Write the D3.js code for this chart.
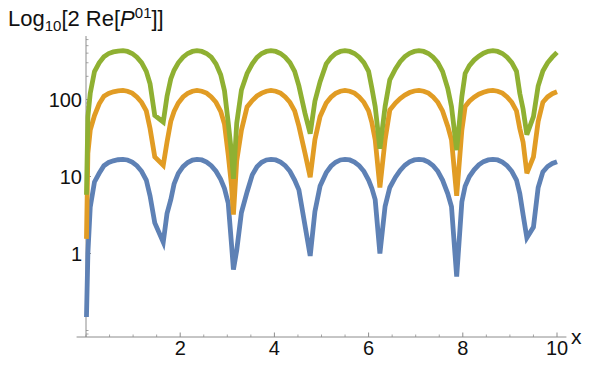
<!DOCTYPE html>
<html lang="en">
  <head>
    <meta charset="utf-8">
    <title>log10 plot</title>
    <style>
      body { margin: 0; background: #fff; }
      text { font-family: "Liberation Sans", Arial, sans-serif; }
    </style>
  </head>
  <body>
    <div id="chart"></div>

    <script src="https://d3js.org/d3.v7.min.js"></script>
    <script>

    // sample points (shared x for the three curves)
    var xs = [0.01, 0.04, 0.09, 0.18, 0.28, 0.38, 0.48, 0.58, 0.68, 0.785, 0.88, 0.98, 1.08, 1.18, 1.28, 1.36, 1.46, 1.64,
              1.72, 1.8, 1.87, 1.96, 2.06, 2.16, 2.26, 2.356, 2.46, 2.56, 2.66, 2.76, 2.86, 2.94, 3.02, 3.09, 3.13,
              3.2, 3.3, 3.42, 3.53, 3.63, 3.73, 3.83, 3.927, 4.03, 4.13, 4.23, 4.33, 4.43, 4.52, 4.65, 4.76,
              4.86, 4.97, 5.1, 5.2, 5.3, 5.4, 5.498, 5.6, 5.7, 5.8, 5.9, 6.0, 6.07, 6.14, 6.24,
              6.35, 6.45, 6.57, 6.67, 6.77, 6.87, 6.97, 7.069, 7.17, 7.27, 7.37, 7.47, 7.57, 7.68, 7.76, 7.87,
              7.98, 8.05, 8.14, 8.24, 8.34, 8.44, 8.54, 8.639, 8.74, 8.84, 8.94, 9.04, 9.14, 9.21, 9.28, 9.36,
              9.5, 9.6, 9.7, 9.8, 9.9, 10.0];

    var blue = [0.15, 1.0, 4.0, 8.5, 11, 13.8, 15.2, 16, 16.5, 16.7, 16.4, 15.4, 13.8, 11.7, 9.0, 5.6, 2.5, 1.4,
                3.3, 5.0, 8.0, 11, 13.4, 15.2, 16.3, 16.7, 16.4, 15.4, 13.8, 11.7, 9.2, 7.0, 4.5, 1.3, 0.62,
                1.1, 3.4, 6.3, 10.5, 13.4, 15.3, 16.4, 16.7, 16.4, 15.4, 13.8, 11.7, 9.0, 6.7, 2.3, 0.93,
                3.5, 7.5, 11.2, 13.6, 15.3, 16.4, 16.7, 16.4, 15.4, 13.8, 11.7, 9.0, 7.0, 5.0, 1.0,
                4.1, 7.2, 9.8, 12, 14, 15.5, 16.4, 16.7, 16.4, 15.4, 13.8, 11.7, 9.0, 6.0, 4.06, 0.5,
                4.7, 7.5, 10, 12.2, 14.2, 15.6, 16.4, 16.7, 16.4, 15.4, 13.8, 11.7, 9.0, 6.0, 3.2, 1.6,
                2.2, 7.2, 11.5, 13.5, 14.8, 15.6];

    var orange = [1.55, 20, 40, 62, 88, 110, 120, 126, 129, 131, 128, 121, 108, 92, 71, 42, 18, 14,
                  28, 52, 70, 90, 108, 120, 128, 131, 128, 121, 108, 92, 70, 48, 19, 7.5, 3.2,
                  16, 40, 80, 97, 111, 121, 128, 131, 128, 121, 108, 92, 71, 45, 20, 9.8,
                  30, 60, 90, 107, 120, 128, 131, 128, 121, 108, 92, 71, 50, 30, 7.2,
                  30, 73, 90, 103, 114, 123, 129, 131, 128, 121, 108, 92, 71, 45, 30, 5.6,
                  40, 81, 95, 107, 117, 124, 129, 131, 128, 121, 108, 92, 71, 42, 28, 11,
                  18, 52, 92, 108, 119, 126];

    var green = [5.8, 60, 120, 230, 300, 360, 395, 415, 425, 430, 421, 396, 355, 301, 232, 160, 62, 51,
                 110, 185, 240, 300, 355, 396, 421, 430, 421, 396, 355, 290, 210, 130, 50, 20, 9.3,
                 49, 133, 218, 290, 352, 396, 421, 430, 421, 396, 355, 301, 232, 150, 66, 36,
                 95, 170, 290, 350, 396, 421, 430, 421, 396, 355, 301, 232, 140, 81, 23,
                 81, 180, 250, 310, 360, 398, 421, 430, 421, 396, 355, 301, 232, 140, 81, 22,
                 109, 218, 275, 325, 365, 400, 422, 430, 421, 396, 355, 301, 232, 120, 75, 35,
                 60, 150, 235, 300, 355, 410];

    var series = [
      {name: "blue",   values: blue,   color: "#5E81B5"},
      {name: "orange", values: orange, color: "#E19C24"},
      {name: "green",  values: green,  color: "#8FB032"}
    ];

    var xMajor = [2, 4, 6, 8, 10];
    var yMajor = [1, 10, 100];
    var yLabels = ["1", "10", "100"];

    var width = 590, height = 365;

    var svg = d3.select("#chart")
      .append("svg")
        .attr("width", width)
        .attr("height", height);

    // scales: x 0..10, log y (1 -> 253.5px, 100 -> 99.5px)
    var x = d3.scaleLinear().domain([0, 10]).range([86, 557]);
    var y = d3.scaleLog().domain([1, 100]).range([253.5, 99.5]);

    var yBottom = 337, yTop = 36;
    var yLow = y.invert(yBottom), yHigh = y.invert(yTop);

    // minor ticks on y: 1..9 x 10^k inside the visible range
    var yMinor = y.copy().domain([yLow, yHigh]).ticks()
      .filter(function(d) { return yMajor.indexOf(d) < 0; });
    var xMinor = d3.range(0, 10.001, 0.5)
      .filter(function(d) { return xMajor.indexOf(d) < 0; });

    var axisColor = "#8c8c8c";

    // y ticks (pointing into the plot)
    svg.append("g")
      .selectAll("line")
      .data(yMinor)
      .enter()
      .append("line")
        .attr("x1", x(0)).attr("x2", x(0) + 2.5)
        .attr("y1", function(d) { return y(d); })
        .attr("y2", function(d) { return y(d); })
        .attr("stroke", "#a6a6a6")
        .attr("stroke-width", 1);

    svg.append("g")
      .selectAll("line")
      .data(yMajor)
      .enter()
      .append("line")
        .attr("x1", x(0)).attr("x2", x(0) + 5)
        .attr("y1", function(d) { return y(d); })
        .attr("y2", function(d) { return y(d); })
        .attr("stroke", axisColor)
        .attr("stroke-width", 1);

    // x ticks
    svg.append("g")
      .selectAll("line")
      .data(xMinor)
      .enter()
      .append("line")
        .attr("x1", function(d) { return x(d); })
        .attr("x2", function(d) { return x(d); })
        .attr("y1", yBottom).attr("y2", yBottom - 2.5)
        .attr("stroke", "#a6a6a6")
        .attr("stroke-width", 1);

    svg.append("g")
      .selectAll("line")
      .data(xMajor)
      .enter()
      .append("line")
        .attr("x1", function(d) { return x(d); })
        .attr("x2", function(d) { return x(d); })
        .attr("y1", yBottom).attr("y2", yBottom - 4.5)
        .attr("stroke", axisColor)
        .attr("stroke-width", 1);

    // axis lines
    svg.append("line")
      .attr("x1", x(-0.2)).attr("x2", x(10.2))
      .attr("y1", yBottom).attr("y2", yBottom)
      .attr("stroke", axisColor)
      .attr("stroke-width", 1);

    svg.append("line")
      .attr("x1", x(0)).attr("x2", x(0))
      .attr("y1", yBottom).attr("y2", yTop)
      .attr("stroke", axisColor)
      .attr("stroke-width", 1);

    // the curves
    var line = d3.line()
      .x(function(d, i) { return x(xs[i]); })
      .y(function(d) { return y(d); });

    svg.append("g")
      .selectAll("path")
      .data(series)
      .enter()
      .append("path")
        .attr("d", function(s) { return line(s.values); })
        .attr("fill", "none")
        .attr("stroke", function(s) { return s.color; })
        .attr("stroke-width", 4.8);

    // tick labels
    svg.append("g")
      .selectAll("text")
      .data(yMajor)
      .enter()
      .append("text")
        .attr("x", x(0) - 4)
        .attr("y", function(d) { return y(d) + 7; })
        .attr("text-anchor", "end")
        .attr("font-size", "20px")
        .attr("fill", "#111")
        .text(function(d, i) { return yLabels[i]; });

    svg.append("g")
      .selectAll("text")
      .data(xMajor)
      .enter()
      .append("text")
        .attr("x", function(d) { return x(d); })
        .attr("y", 355)
        .attr("text-anchor", "middle")
        .attr("font-size", "20px")
        .attr("fill", "#111")
        .text(function(d) { return d; });

    // axis labels
    svg.append("text")
      .attr("x", 571)
      .attr("y", 344)
      .attr("font-size", "21px")
      .attr("fill", "#111")
      .text("x");

    var title = svg.append("text")
      .attr("x", 8)
      .attr("y", 26)
      .attr("font-size", "22px")
      .attr("fill", "#111");
    title.append("tspan").text("Log");
    title.append("tspan").attr("font-size", "15px").attr("dy", 5).text("10");
    title.append("tspan").attr("dy", -5).text("[2 Re[");
    title.append("tspan").attr("font-style", "italic").text("P");
    title.append("tspan").attr("font-size", "15px").attr("dy", -8).text("01");
    title.append("tspan").attr("dy", 8).text("]]");

    </script>
  </body>
</html>
